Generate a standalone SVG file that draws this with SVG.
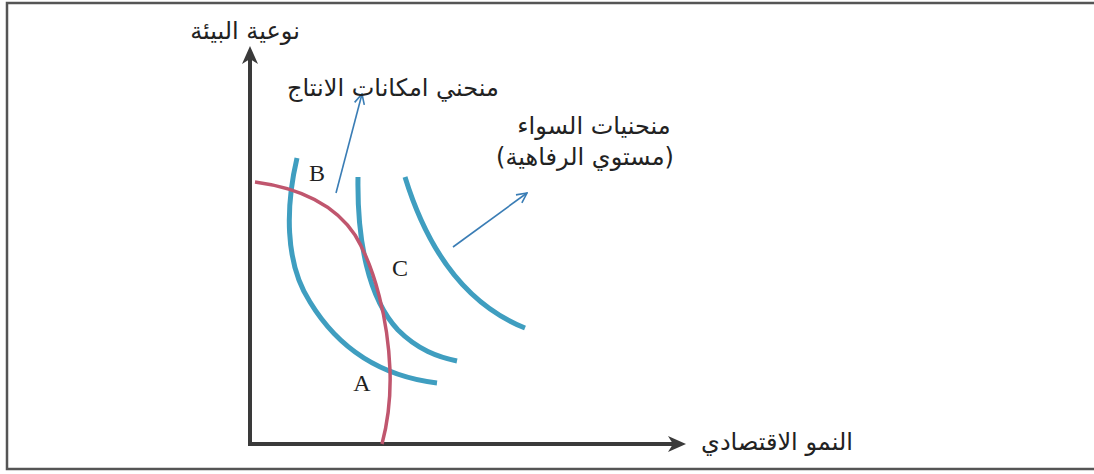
<svg xmlns="http://www.w3.org/2000/svg" width="1094" height="474" viewBox="0 0 1094 474">
<defs>
<style>
.ar{font-family:"DejaVu Sans","Noto Sans",sans-serif;font-size:24px;fill:#222;text-anchor:middle;}
.lt{font-family:"Liberation Serif",serif;font-size:24px;fill:#222;text-anchor:middle;}
.ic{fill:none;stroke:#3f9ec0;stroke-width:5;stroke-linecap:butt;}
.ppf{fill:none;stroke:#c0566e;stroke-width:3.5;}
.ptr{fill:none;stroke:#3a7db5;stroke-width:1.6;}
.axis{stroke:#3a3a3a;stroke-width:4;fill:none;}
</style>
<marker id="ah" viewBox="0 0 12 12" refX="11" refY="6" markerWidth="12" markerHeight="12" markerUnits="userSpaceOnUse" orient="auto">
<path d="M1,1 L11,6 L1,11" fill="none" stroke="#3a7db5" stroke-width="1.6"/>
</marker>
</defs>
<rect x="7" y="3" width="1100" height="466" fill="#fff" stroke="#555" stroke-width="2.5"/>
<g id="axes">
<line class="axis" x1="250" y1="444" x2="250" y2="56"/>
<polygon points="250,46 242,64 250,59 258,64" fill="#3a3a3a"/>
<line class="axis" x1="248" y1="444" x2="676" y2="444"/>
<polygon points="686,444 668,436 673,444 668,452" fill="#3a3a3a"/>
</g>
<g id="curves">
<path id="ic1" class="ic" d="M297,158 C286,205 284,262 310,302 C338,348 380,376 437,383"/>
<path id="ic2" class="ic" d="M358,177 C357,240 368,298 398,330 C418,350 438,357 457,361"/>
<path id="ic3" class="ic" d="M405,177 C425,242 460,302 525,328"/>
<path id="ppf" class="ppf" d="M255,182 C300,188 335,205 355,235 C375,268 388,320 390,370 C391,400 387,425 382,444"/>
</g>
<g id="connectors">
<path class="ptr" d="M336,193 L362,94" marker-end="url(#ah)"/>
<path class="ptr" d="M453,247 L527,193" marker-end="url(#ah)"/>
</g>
<g id="labels">
<text class="ar" x="245" y="39">نوعية البيئة</text>
<text class="ar" x="393" y="96">منحني امكانات الانتاج</text>
<text class="ar" x="594" y="134">منحنيات السواء</text>
<text class="ar" x="585" y="165">(مستوي الرفاهية)</text>
<text class="ar" x="777" y="450">النمو الاقتصادي</text>
<text class="lt" x="317" y="181">B</text>
<text class="lt" x="400" y="276">C</text>
<text class="lt" x="362" y="391">A</text>
</g>
</svg>
